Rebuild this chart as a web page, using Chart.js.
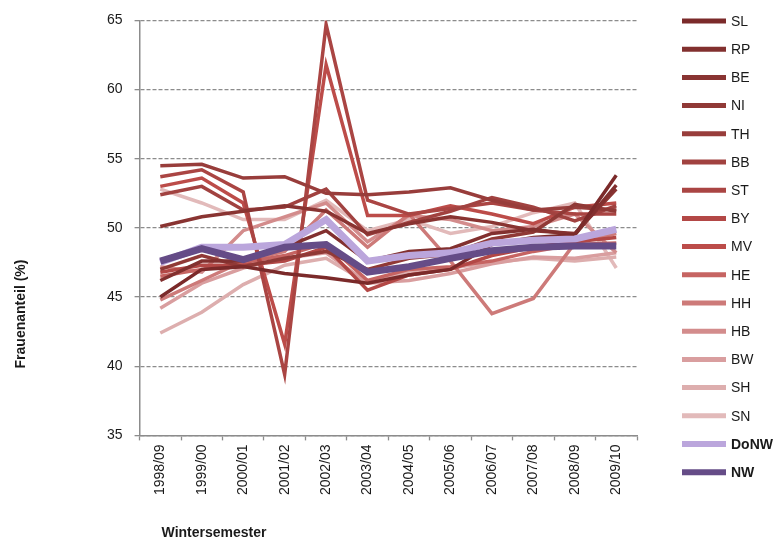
<!DOCTYPE html>
<html>
<head>
<meta charset="utf-8">
<script src="https://cdn.jsdelivr.net/npm/chart.js@4.4.1/dist/chart.umd.min.js"></script>
<style>
  html, body { margin: 0; padding: 0; background: #fff; }
  #wrap { width: 776px; height: 542px; }
</style>
</head>
<body>
<div id="wrap"><canvas id="myChart" width="776" height="542"></canvas></div>
<script>
var semesters = ['1998/09', '1999/00', '2000/01', '2001/02', '2002/03', '2003/04', '2004/05', '2005/06', '2006/07', '2007/08', '2008/09', '2009/10'];
var yTicks = [35, 40, 45, 50, 55, 60, 65];

var SL   = [45.0, 47.0, 47.2, 46.7, 46.4, 46.0, 46.6, 47.0, 48.8, 49.3, 49.5, 53.8];
var RP   = [46.2, 47.6, 47.6, 48.6, 49.8, 47.6, 48.3, 48.5, 49.6, 49.9, 49.5, 53.1];
var BE   = [50.1, 50.8, 51.2, 51.6, 51.2, 49.6, 50.3, 50.8, 50.4, 49.8, 49.6, 52.8];
var NI   = [47.0, 48.0, 47.2, 47.8, 48.3, 47.0, 47.8, 48.1, 49.2, 49.7, 51.7, 51.2];
var TH   = [54.5, 54.6, 53.6, 53.7, 52.5, 52.4, 52.6, 52.9, 52.0, 51.3, 51.5, 51.3];
var BB   = [52.4, 53.0, 51.3, 51.5, 52.8, 49.5, 50.4, 51.2, 52.2, 51.5, 50.5, 51.6];
var ST   = [53.7, 54.2, 52.6, 39.4, 64.7, 52.0, 51.0, 51.4, 51.8, 51.3, 51.0, 51.0];
var BY   = [46.8, 47.3, 47.3, 47.6, 48.6, 45.5, 46.6, 47.0, 48.0, 48.6, 49.0, 49.3];
var MV   = [53.0, 53.6, 51.8, 41.6, 61.8, 50.9, 50.9, 51.6, 51.0, 50.3, 51.5, 51.8];
var HE   = [46.5, 47.0, 47.5, 48.0, 48.9, 46.2, 47.0, 47.2, 47.6, 48.3, 48.8, 48.9];
var HH   = [44.8, 46.2, 47.6, 48.3, 51.3, 48.6, 51.0, 47.6, 43.8, 44.9, 48.9, 49.6];
var HB   = [47.2, 46.8, 49.8, 50.8, 51.8, 49.0, 50.9, 50.6, 49.8, 50.1, 51.0, 48.2];
var BW   = [44.2, 46.0, 47.1, 47.8, 48.2, 46.0, 46.2, 46.7, 47.4, 47.9, 47.8, 48.2];
var SH   = [42.4, 43.9, 45.9, 47.3, 47.8, 46.0, 46.8, 47.1, 47.5, 47.8, 47.6, 47.9];
var SN   = [52.8, 51.8, 50.6, 50.6, 52.0, 49.8, 50.6, 49.6, 50.1, 51.1, 51.8, 47.1];
var DoNW = [47.5, 48.6, 48.6, 48.8, 50.6, 47.6, 48.0, 48.2, 48.9, 49.1, 49.2, 49.9];
var NW   = [47.6, 48.5, 47.7, 48.6, 48.8, 46.8, 47.2, 47.8, 48.35, 48.6, 48.7, 48.7];

var seriesNames = ['SL', 'RP', 'BE', 'NI', 'TH', 'BB', 'ST', 'BY', 'MV', 'HE', 'HH', 'HB', 'BW', 'SH', 'SN', 'DoNW', 'NW'];
var seriesData = [SL, RP, BE, NI, TH, BB, ST, BY, MV, HE, HH, HB, BW, SH, SN, DoNW, NW];
var seriesColors = ['#7b2a2a', '#82302f', '#893432', '#903936', '#983d3b', '#a14240', '#aa4543', '#b34846', '#bc4c49',
                    '#c66462', '#cd7a79', '#d38c8c', '#d99e9f', '#ddaeae', '#e2baba', '#bba6dc', '#654c87'];

var FONT = "'Liberation Sans Narrow', 'Liberation Sans', Arial, sans-serif";

var datasets = seriesNames.map(function(name, i) {
    var big = (name === 'DoNW' || name === 'NW');
    return {
        label: name,
        data: seriesData[i],
        borderColor: seriesColors[i],
        backgroundColor: seriesColors[i],
        borderWidth: big ? 7 : 3.5,
        pointRadius: 0,
        tension: 0,
        fill: false,
        order: name === 'NW' ? 0 : (name === 'DoNW' ? 1 : 2 + i)
    };
});

// legend and axis titles drawn by hand so they sit where the original has them
var sideStuff = {
    id: 'sideStuff',
    afterDraw: function(chart) {
        var ctx = chart.ctx;
        var area = chart.chartArea;
        ctx.save();
        ctx.textBaseline = 'middle';
        ctx.textAlign = 'left';
        chart.data.datasets.forEach(function(ds, i) {
            var big = (ds.label === 'DoNW' || ds.label === 'NW');
            var y = 21 + i * 28.2;
            ctx.strokeStyle = ds.borderColor;
            ctx.lineWidth = big ? 6 : 5;
            ctx.beginPath();
            ctx.moveTo(area.right + 45, y);
            ctx.lineTo(area.right + 89, y);
            ctx.stroke();
            ctx.fillStyle = '#1a1a1a';
            ctx.font = (big ? 'bold ' : '') + '14px ' + FONT;
            ctx.fillText(ds.label, area.right + 94, y + 1);
        });

        ctx.fillStyle = '#1a1a1a';
        ctx.font = 'bold 14px ' + FONT;
        ctx.fillText('Wintersemester', area.left + 22, 533);

        ctx.translate(21, 314);
        ctx.rotate(-Math.PI / 2);
        ctx.textAlign = 'center';
        ctx.fillText('Frauenanteil (%)', 0, 0);
        ctx.restore();
    }
};

var ctx = document.getElementById('myChart').getContext('2d');
var myChart = new Chart(ctx, {
    type: 'line',
    data: {
        labels: semesters,
        datasets: datasets
    },
    options: {
        responsive: false,
        animation: false,
        layout: {
            padding: { left: 95, right: 139, top: 10, bottom: 43 }
        },
        plugins: {
            legend: { display: false },
            tooltip: { enabled: false }
        },
        scales: {
            x: {
                offset: true,
                grid: {
                    offset: true,
                    drawOnChartArea: false,
                    drawTicks: true,
                    tickLength: 5,
                    tickColor: '#8c8c8c',
                    tickWidth: 1.3
                },
                border: { color: '#8c8c8c', width: 1.5 },
                ticks: {
                    autoSkip: false,
                    minRotation: 90,
                    maxRotation: 90,
                    padding: 4,
                    color: '#1a1a1a',
                    font: { family: FONT, size: 14 }
                }
            },
            y: {
                min: 35,
                max: 65,
                afterBuildTicks: function(scale) {
                    scale.ticks = yTicks.map(function(v) { return { value: v }; });
                },
                grid: {
                    color: '#8c8c8c',
                    lineWidth: 1.3,
                    tickLength: 5,
                    tickColor: '#8c8c8c',
                    tickBorderDash: []
                },
                border: { color: '#8c8c8c', width: 1.5, dash: [4, 2] },
                ticks: {
                    padding: 12,
                    color: '#1a1a1a',
                    font: { family: FONT, size: 14 }
                }
            }
        }
    },
    plugins: [sideStuff]
});
</script>
</body>
</html>
